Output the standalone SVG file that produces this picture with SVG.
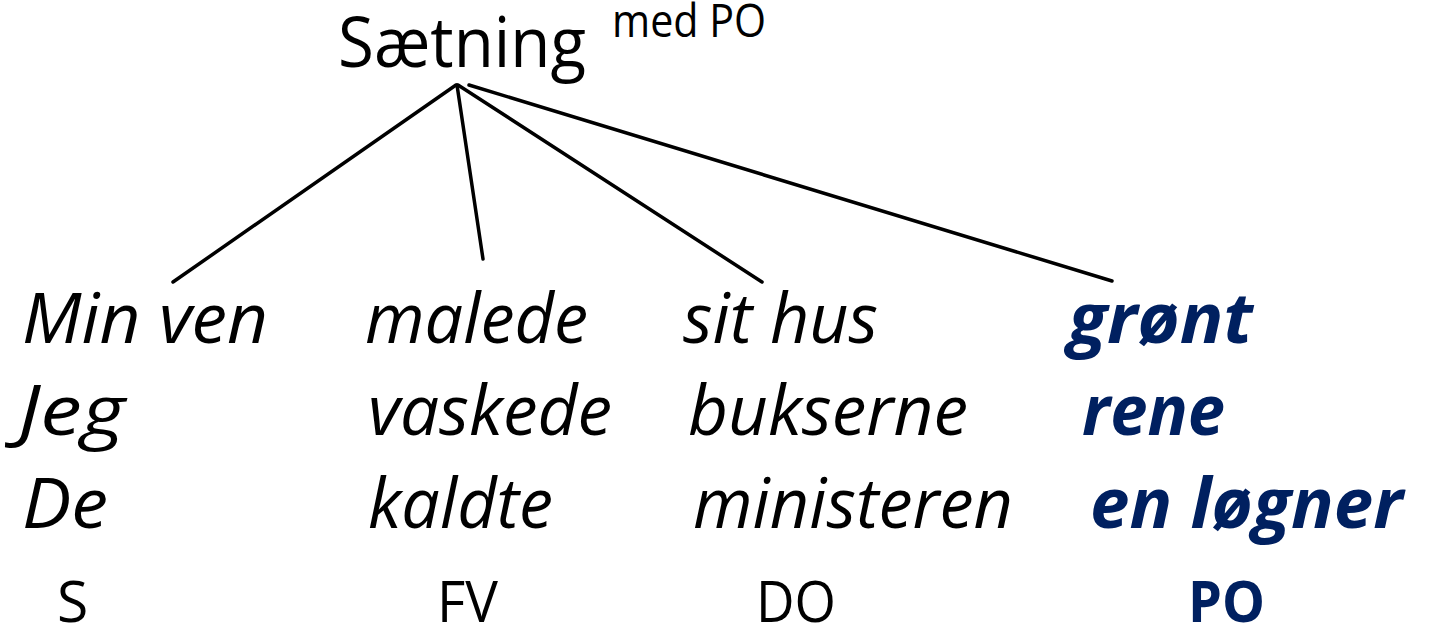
<svg xmlns="http://www.w3.org/2000/svg" width="1432" height="626" viewBox="0 0 1432 626">
<style>
text{font-family:"Open Sans","Noto Sans","DejaVu Sans",sans-serif;fill:#000}
.t{font-size:70px}
.sup{font-size:45px}
.w{font-size:70px;font-style:italic}
.po{font-size:70px;font-style:italic;font-weight:bold;fill:#002060}
.lab{font-size:57px}
.labpo{font-size:57px;font-weight:bold;fill:#002060}
.edge{stroke:#000;stroke-width:3.5;fill:none;stroke-linecap:round}
</style>
<rect width="1432" height="626" fill="#fff"/>
<g id="root">
<text class="t" x="338" y="67" textLength="248" lengthAdjust="spacingAndGlyphs">Sætning</text>
<text class="sup" x="612" y="37" textLength="154" lengthAdjust="spacingAndGlyphs">med PO</text>
</g>
<g id="connectors">
<line class="edge" x1="456" y1="85" x2="173" y2="282"/>
<line class="edge" x1="457" y1="85" x2="483" y2="259"/>
<line class="edge" x1="458" y1="85" x2="762" y2="282"/>
<line class="edge" x1="469" y1="85" x2="1112" y2="281"/>
</g>
<g id="S">
<text class="w" x="22" y="343" textLength="246" lengthAdjust="spacingAndGlyphs">Min ven</text>
<text class="w" x="18" y="435" textLength="107" lengthAdjust="spacingAndGlyphs">Jeg</text>
<text class="w" x="22" y="528" textLength="86" lengthAdjust="spacingAndGlyphs">De</text>
<text class="lab" x="57" y="622">S</text>
</g>
<g id="FV">
<text class="w" x="365" y="343" textLength="223" lengthAdjust="spacingAndGlyphs">malede</text>
<text class="w" x="368" y="435" textLength="244" lengthAdjust="spacingAndGlyphs">vaskede</text>
<text class="w" x="368" y="528" textLength="185" lengthAdjust="spacingAndGlyphs">kaldte</text>
<text class="lab" x="437" y="622" textLength="61" lengthAdjust="spacingAndGlyphs">FV</text>
</g>
<g id="DO">
<text class="w" x="683" y="343" textLength="195" lengthAdjust="spacingAndGlyphs">sit hus</text>
<text class="w" x="688" y="435" textLength="280" lengthAdjust="spacingAndGlyphs">bukserne</text>
<text class="w" x="693" y="528" textLength="320" lengthAdjust="spacingAndGlyphs">ministeren</text>
<text class="lab" x="756" y="622" textLength="80" lengthAdjust="spacingAndGlyphs">DO</text>
</g>
<g id="PO">
<text class="po" x="1068" y="343" textLength="185" lengthAdjust="spacingAndGlyphs">grønt</text>
<text class="po" x="1082" y="435" textLength="143" lengthAdjust="spacingAndGlyphs">rene</text>
<text class="po" x="1090" y="528" textLength="313" lengthAdjust="spacingAndGlyphs">en løgner</text>
<text class="labpo" x="1188" y="622" textLength="77" lengthAdjust="spacingAndGlyphs">PO</text>
</g>
</svg>
